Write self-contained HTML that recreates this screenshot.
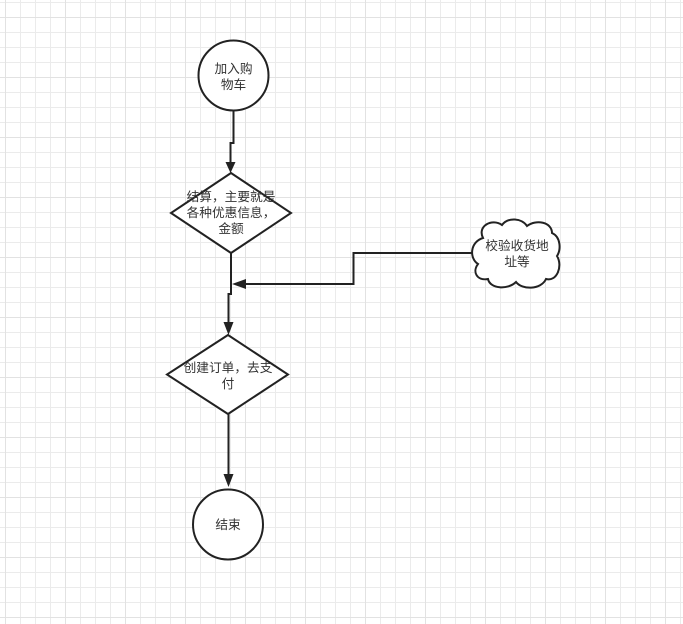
<!DOCTYPE html>
<html><head><meta charset="utf-8"><style>
html,body{margin:0;padding:0;background:#fff;}
svg{display:block;}
text{font-family:"Liberation Sans","Noto Sans CJK SC",sans-serif;font-size:12.7px;fill:#333;}
</style></head><body>
<svg width="683" height="624" viewBox="0 0 683 624" xmlns="http://www.w3.org/2000/svg">
<defs>
<pattern id="g" x="5" y="2" width="15" height="15" patternUnits="userSpaceOnUse">
<path d="M0.5 0V15M0 0.5H15" stroke="#ebebeb" stroke-width="1" fill="none"/>
</pattern>
<pattern id="G" x="5" y="17" width="60" height="60" patternUnits="userSpaceOnUse">
<path d="M0.5 0V60M0 0.5H60" stroke="#e2e2e2" stroke-width="1" fill="none"/>
</pattern>
</defs>
<rect width="683" height="624" fill="url(#g)"/>
<rect width="683" height="624" fill="url(#G)"/>
<g stroke="#222" stroke-width="2" fill="none">
<path d="M233.5 111V143H230.5V165"/>
<path d="M231 253V294H228.5V327"/>
<path d="M472 253H353.5V284H240"/>
<path d="M228.5 414V479"/>
</g>
<g fill="#222">
<path d="M230.5 173L225.5 162H235.5Z"/>
<path d="M228.5 335L223.5 322H233.5Z"/>
<path d="M232 284L246 279V289Z"/>
<path d="M228.5 487L223.5 474H233.5Z"/>
</g>
<g stroke="#222" stroke-width="2" fill="#fff">
<circle cx="233.5" cy="75.5" r="35"/>
<path d="M231 173L291 213L231 253L171 213Z"/>
<path d="M228 335L288 374.5L228 414L167 374.5Z"/>
<circle cx="228" cy="524.5" r="35"/>
<path d="M483 238C477 226 492 218 502 225C508 217 522 218 527 226C536 219 552 222 552 233C561 237 561 250 557 256C563 266 557 282 546 279C541 290 522 290 516 282C508 290 490 289 488 279C477 281 472 272 478 264C469 258 470 242 483 238Z"/>
</g>
<text x="233.5" y="73" text-anchor="middle">加入购</text>
<text x="233.5" y="89" text-anchor="middle">物车</text>
<text x="231" y="201" text-anchor="middle">结算，主要就是</text>
<text x="231" y="217" text-anchor="middle">各种优惠信息，</text>
<text x="231" y="233" text-anchor="middle">金额</text>
<text x="228" y="372" text-anchor="middle">创建订单，去支</text>
<text x="228" y="388" text-anchor="middle">付</text>
<text x="228" y="529" text-anchor="middle">结束</text>
<text x="517" y="250" text-anchor="middle">校验收货地</text>
<text x="517" y="266" text-anchor="middle">址等</text>
</svg>
</body></html>
